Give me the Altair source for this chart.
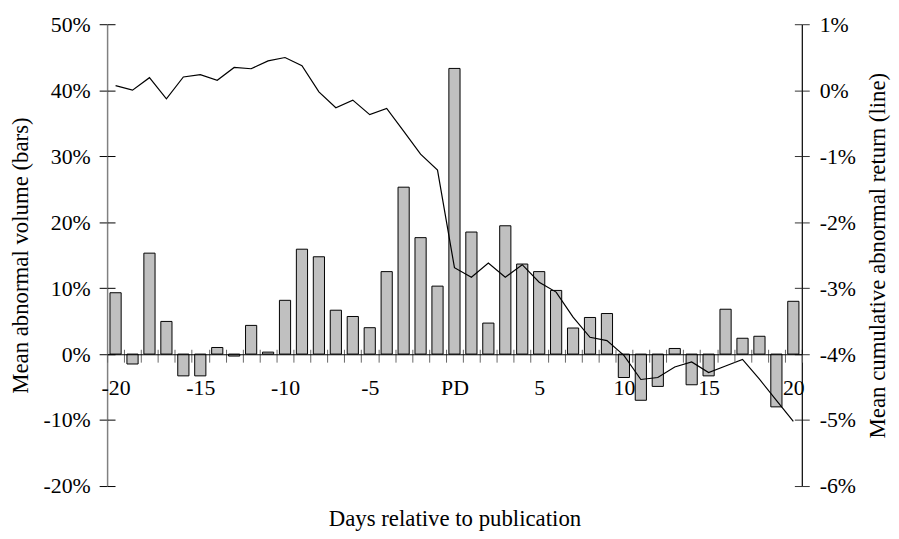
import altair as alt
import pandas as pd

days = list(range(-20, 21))
# Mean abnormal volume (bars), in percent
volume_pct = [9.3, -1.5, 15.3, 4.95, -3.3, -3.3, 1.0, -0.3, 4.35, 0.3,
              8.15, 15.9, 14.75, 6.65, 5.7, 4.0, 12.5, 25.3, 17.65, 10.3,
              43.3, 18.5, 4.7, 19.45, 13.65, 12.5, 9.65, 3.95, 5.55, 6.15,
              -3.55, -7.0, -4.9, 0.85, -4.65, -3.3, 6.8, 2.4, 2.7, -8.0, 8.0]
# Mean cumulative abnormal return (line), in percent
car_pct = [0.07, 0.0, 0.19, -0.13, 0.2, 0.235, 0.15, 0.345, 0.325, 0.445,
           0.495, 0.37, -0.025, -0.265, -0.15, -0.37, -0.275, -0.62, -0.97, -1.21,
           -2.69, -2.835, -2.62, -2.835, -2.645, -2.91, -3.06, -3.44, -3.745, -3.795,
           -4.02, -4.385, -4.355, -4.195, -4.12, -4.28, -4.18, -4.08, -4.38, -4.70, -5.02]
left_ticks = [-0.2, -0.1, 0.0, 0.1, 0.2, 0.3, 0.4, 0.5]
right_ticks = [-0.06, -0.05, -0.04, -0.03, -0.02, -0.01, 0.0, 0.01]

df = pd.DataFrame({
    "day": days,
    "vol": [v / 100 for v in volume_pct],
    "car": [v / 100 for v in car_pct],
})

W, H = 701, 466
FONT = "Liberation Serif"
pct_expr = "(datum.value < -0.00001 ? '-' : '') + format(abs(datum.value) * 100, '.0f') + '%'"
x_label_expr = ("datum.value == 0 ? 'PD' : (datum.value % 5 == 0 ? "
                "(datum.value < 0 ? '-' + abs(datum.value) : '' + datum.value) : '')")

xscale = alt.Scale(domain=days, paddingInner=0, paddingOuter=0)
lscale = alt.Scale(domain=[-0.2, 0.5], nice=False)
rscale = alt.Scale(domain=[-0.06, 0.01], nice=False)

bars = alt.Chart(df).mark_bar(
    width=alt.RelativeBandSize(0.66), fill="#c0c0c0", stroke="black", strokeWidth=1
).encode(
    x=alt.X("day:O", scale=xscale, axis=alt.Axis(
        orient="bottom", offset=-133, title="Days relative to publication",
        labelExpr=x_label_expr, labelAngle=0, tickBand="extent", tickSize=8,
        tickColor="#666666", domainColor="black", domainWidth=1.2, labelPadding=16,
        labelOverlap=False, titleY=173, titleBaseline="alphabetic", titleFontSize=23,
        zindex=1, grid=False)),
    y=alt.Y("vol:Q", scale=lscale, axis=alt.Axis(
        orient="left", values=left_ticks, labelExpr=pct_expr, tickSize=8,
        tickColor="black", domainColor="#808080", domainWidth=1.5, labelPadding=9,
        title="Mean abnormal volume (bars)", titleAngle=270, titleX=-80, titleY=H / 2,
        titleBaseline="alphabetic", titleAlign="center", titleFontSize=23, grid=False)),
    y2=alt.datum(0),
)

# inner halves of the crossing ticks (left axis and x axis)
inner_left = alt.Chart(df).mark_point(opacity=0).encode(
    x=alt.X("day:O", scale=xscale, axis=alt.Axis(
        orient="top", offset=-333, labels=False, domain=False, title=None,
        tickBand="extent", tickSize=5, tickColor="#666666", grid=False)),
    y=alt.Y("vol:Q", scale=lscale, axis=alt.Axis(
        orient="right", offset=-W, values=left_ticks, labels=False, domain=False,
        title=None, tickSize=8, tickColor="black", grid=False)),
)

line = alt.Chart(df).mark_line(color="black", strokeWidth=1.2).encode(
    x=alt.X("day:O", scale=xscale, axis=None),
    y=alt.Y("car:Q", scale=rscale, axis=alt.Axis(
        orient="right", values=right_ticks, labelExpr=pct_expr, tickSize=7.5,
        tickColor="#333333", domainColor="black", domainWidth=1.2, labelPadding=10,
        title="Mean cumulative abnormal return (line)", titleAngle=270, titleX=83,
        titleY=H / 2, titleBaseline="alphabetic", titleAlign="center", titleFontSize=23,
        grid=False)),
)

inner_right = alt.Chart(df).mark_point(opacity=0).encode(
    x=alt.X("day:O", scale=xscale, axis=None),
    y=alt.Y("car:Q", scale=rscale, axis=alt.Axis(
        orient="left", offset=-W, values=right_ticks, labels=False, domain=False,
        title=None, tickSize=7.5, tickColor="#333333", grid=False)),
)

chart = alt.layer(bars, inner_left, line, inner_right).resolve_scale(
    y="independent"
).resolve_axis(
    x="independent", y="independent"
).properties(
    width=W, height=H,
    autosize=alt.AutoSizeParams(type="none"),
    padding={"left": 100, "top": 14, "right": 90, "bottom": 43},
).configure_view(stroke=None).configure_axis(
    labelFont=FONT, titleFont=FONT, labelFontSize=22, titleFontSize=22,
    labelColor="black", titleColor="black", titleFontWeight="normal",
)

chart.save("out.html", embed_options={"renderer": "svg", "actions": False})
